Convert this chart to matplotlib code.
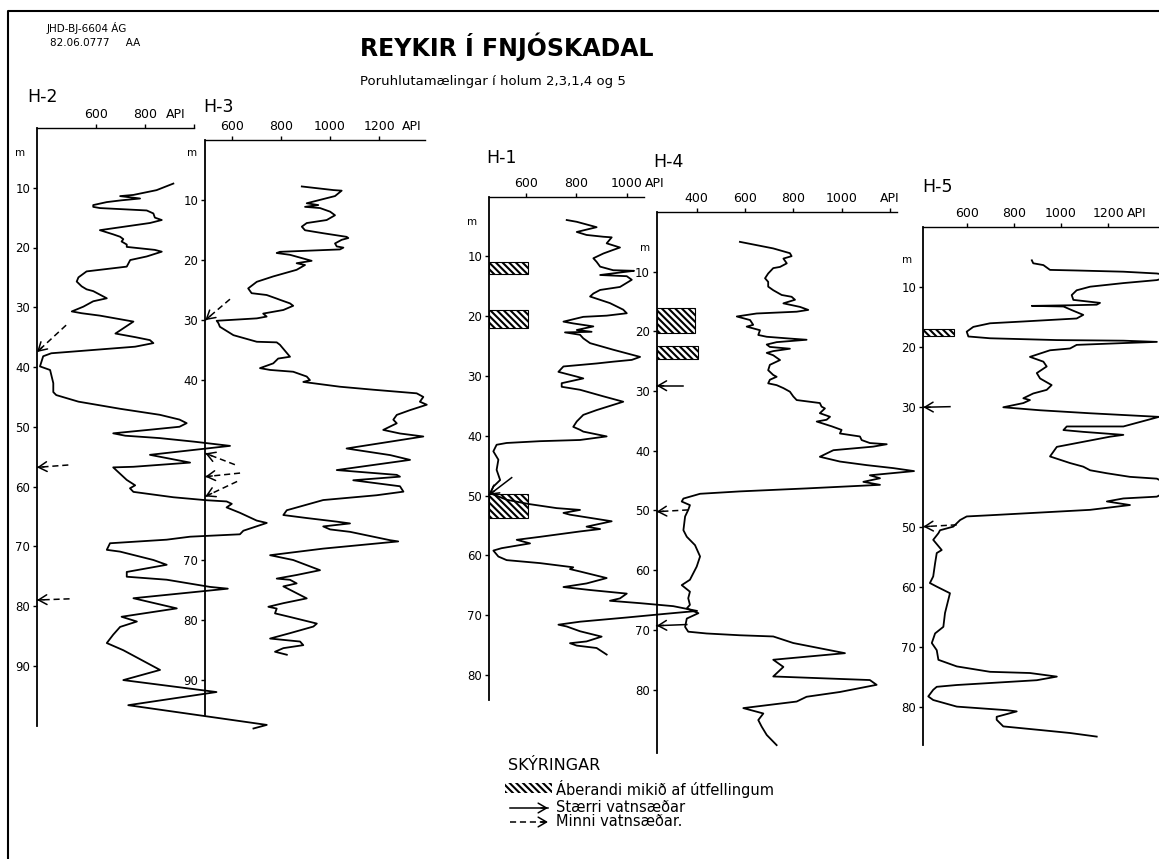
# Reykir i Fnjoskadal - porosity logs (API) in wells H-2, H-3, H-1, H-4, H-5
import numpy as np
import matplotlib
matplotlib.use('Agg')
import matplotlib.pyplot as plt
from matplotlib.patches import Rectangle

W, H = 1159, 859

# logs as (depth m, API)
h2_log = [(9.3, 915), (10.4, 847), (11.2, 753), (11.4, 699), (11.8, 780), (12.1, 705), (12.4, 645),
          (12.9, 590), (13.2, 590), (13.4, 617), (13.8, 807), (14.3, 834), (15.0, 840), (15.4, 868),
          (15.9, 820), (17.1, 617), (17.8, 671), (18.2, 699), (18.6, 712), (19.0, 705), (19.5, 726),
          (19.9, 726), (20.4, 840), (20.7, 868), (21.5, 807), (22.1, 740), (23.2, 726), (24.0, 563),
          (25.0, 530), (25.7, 523), (26.5, 543), (27.0, 563), (27.3, 590), (28.5, 645), (29.0, 590),
          (29.9, 550), (30.7, 503), (31.0, 543), (31.4, 617), (32.4, 753), (34.4, 680), (35.0, 760),
          (35.5, 820), (36.0, 834), (36.6, 760), (37.7, 420), (38.2, 387), (39.9, 374), (40.5, 415),
          (42.7, 428), (44.2, 428), (44.7, 440), (45.8, 530), (47.0, 700), (48.0, 860), (48.8, 940),
          (49.4, 969), (50.0, 940), (50.5, 820), (51.1, 671), (51.5, 720), (51.9, 860), (52.5, 1000),
          (53.2, 1145), (54.7, 820), (56.0, 983), (56.7, 753), (56.8, 671), (58.9, 726), (59.8, 760),
          (60.3, 739), (60.9, 753), (61.8, 915), (62.3, 1050), (62.5, 1131), (62.9, 1152), (63.5, 1131),
          (64.4, 1185), (65.7, 1253), (66.1, 1294), (67.4, 1199), (68.0, 1185), (68.4, 983), (68.9, 888),
          (69.5, 658), (70.6, 645), (70.9, 699), (72.3, 834), (73.1, 888), (74.3, 726), (75.1, 726),
          (75.6, 888), (76.8, 1063), (77.1, 1136), (78.7, 753), (80.4, 929), (81.8, 705), (82.6, 767),
          (83.5, 699), (84.8, 671), (86.2, 645), (87.4, 712), (90.7, 861), (92.4, 712), (94.4, 1090),
          (96.6, 732), (99.9, 1294), (100.5, 1240)]

h3_log = [(7.7, 885), (8.3, 1013), (8.4, 1047), (9.3, 1020), (10.5, 905), (10.8, 952), (11.1, 898),
          (11.3, 959), (11.9, 1000), (12.5, 1020), (13.3, 986), (13.8, 905), (14.4, 885), (15.0, 898),
          (15.5, 972), (16.1, 1067), (16.3, 1074), (16.6, 1047), (17.2, 1020), (17.7, 1027), (17.9, 1054),
          (18.2, 1040), (18.6, 796), (18.8, 783), (19.1, 837), (20.1, 925), (20.5, 864), (20.8, 898),
          (21.6, 864), (22.7, 769), (23.6, 702), (24.7, 667), (25.5, 681), (25.8, 742), (26.4, 783),
          (26.6, 796), (27.2, 837), (27.6, 850), (28.3, 810), (28.9, 728), (29.4, 742), (29.7, 702),
          (30.1, 539), (30.5, 546), (31.1, 552), (32.5, 607), (33.6, 702), (33.7, 783), (34.1, 796),
          (36.1, 837), (36.4, 789), (37.2, 769), (38.0, 715), (38.3, 756), (38.6, 850), (39.4, 905),
          (40.0, 918), (40.3, 891), (41.1, 1040), (41.6, 1176), (42.2, 1352), (42.8, 1379), (43.6, 1365),
          (44.1, 1393), (45.0, 1325), (45.8, 1271), (46.6, 1257), (47.2, 1271), (48.3, 1216), (48.9, 1284),
          (49.4, 1379), (51.4, 1067), (52.5, 1244), (53.3, 1325), (55.0, 1027), (55.8, 1271), (56.1, 1284),
          (56.7, 1094), (57.7, 1284), (58.6, 1298), (59.2, 1189), (60.0, 972), (61.7, 824), (62.5, 810),
          (63.0, 905), (63.6, 1027), (63.9, 1081), (64.4, 972), (64.9, 1000), (65.3, 1081), (66.7, 1244),
          (66.9, 1277), (68.1, 972), (69.2, 756), (70.0, 850), (71.7, 959), (72.5, 864), (73.1, 783),
          (73.3, 837), (73.9, 864), (74.4, 810), (76.4, 905), (77.2, 810), (77.8, 749), (78.1, 783),
          (78.9, 776), (79.5, 837), (80.6, 946), (81.1, 932), (82.2, 837), (83.1, 756), (83.6, 878),
          (84.2, 891), (84.7, 810), (85.3, 776), (85.8, 824)]

h1_log = [(3.9, 762), (4.2, 802), (5.1, 881), (5.9, 802), (6.4, 841), (6.7, 908), (6.8, 941),
          (7.8, 921), (8.5, 974), (8.9, 947), (9.5, 908), (10.3, 868), (10.9, 881), (11.7, 895),
          (12.3, 947), (12.4, 1030), (12.6, 990), (13.1, 895), (13.3, 1001), (13.9, 1021), (15.1, 974),
          (15.6, 895), (16.2, 868), (16.7, 855), (17.8, 934), (18.9, 987), (19.5, 1001), (19.9, 921),
          (20.1, 828), (20.9, 749), (21.2, 788), (21.7, 868), (22.3, 802), (22.6, 861), (22.7, 755),
          (23.1, 815), (23.7, 828), (24.5, 855), (25.6, 947), (26.8, 1054), (27.3, 1021), (27.6, 947),
          (27.9, 881), (28.4, 749), (29.3, 729), (30.1, 802), (30.4, 828), (31.2, 742), (31.8, 742),
          (32.3, 815), (33.4, 908), (34.3, 987), (35.7, 881), (36.5, 828), (37.6, 802), (38.5, 788),
          (39.0, 815), (39.3, 828), (40.1, 921), (40.7, 815), (40.9, 656), (41.2, 523), (41.5, 483),
          (42.6, 470), (44.0, 490), (45.7, 483), (47.4, 497), (48.5, 470), (49.6, 457), (50.7, 523),
          (51.4, 609), (52.1, 722), (52.4, 815), (52.9, 749), (53.2, 775), (54.3, 941), (55.2, 841),
          (55.6, 895), (56.0, 815), (56.9, 656), (57.4, 563), (58.0, 616), (58.8, 503), (59.2, 470),
          (60.2, 490), (60.8, 523), (61.3, 656), (62.0, 788), (62.3, 775), (62.7, 815), (63.8, 921),
          (64.7, 841), (65.3, 749), (65.8, 855), (66.4, 1001), (67.2, 974), (67.6, 934), (68.0, 1054),
          (68.5, 1186), (69.3, 1281), (69.8, 1150), (70.4, 1000), (71.1, 815), (71.6, 729), (71.9, 762),
          (72.7, 815), (73.6, 901), (74.4, 841), (74.7, 775), (75.1, 802), (75.5, 881), (76.6, 921)]

h4_log = [(5.0, 579), (6.1, 717), (6.9, 786), (7.4, 793), (7.8, 759), (8.6, 773), (9.2, 745),
          (9.4, 717), (10.3, 696), (11.1, 683), (11.7, 696), (12.5, 696), (13.1, 717), (13.9, 752),
          (14.2, 793), (14.7, 807), (15.3, 759), (15.9, 828), (16.4, 862), (16.7, 814), (17.0, 648),
          (17.5, 566), (18.1, 621), (18.9, 634), (19.2, 607), (19.8, 662), (20.6, 655), (20.9, 690),
          (21.2, 786), (21.4, 855), (21.8, 731), (22.2, 690), (22.6, 703), (22.9, 786), (23.3, 717),
          (23.6, 690), (24.0, 717), (24.8, 745), (25.6, 703), (26.5, 696), (27.3, 717), (27.6, 731),
          (28.1, 703), (28.7, 696), (29.0, 731), (29.5, 759), (30.1, 786), (30.9, 800), (31.5, 814),
          (32.0, 910), (32.6, 917), (32.9, 931), (33.7, 910), (34.3, 952), (34.8, 938), (35.1, 897),
          (35.9, 959), (36.5, 1000), (37.1, 993), (37.6, 1076), (38.2, 1083), (38.7, 1117), (38.9, 1187),
          (39.3, 1131), (39.9, 966), (41.0, 910), (41.8, 993), (42.4, 1104), (42.9, 1214), (43.4, 1300),
          (44.1, 1117), (44.6, 1159), (45.2, 1090), (45.7, 1159), (46.3, 855), (46.8, 579), (47.2, 414),
          (48.0, 345), (48.5, 338), (49.1, 372), (49.9, 365), (51.0, 352), (53.3, 345), (54.4, 359),
          (55.8, 393), (57.7, 414), (59.4, 400), (60.5, 386), (61.6, 372), (62.5, 338), (63.6, 372),
          (64.7, 365), (65.8, 372), (66.4, 359), (67.2, 407), (68.1, 359), (69.5, 352), (70.3, 365),
          (70.6, 441), (70.9, 579), (71.1, 717), (72.2, 800), (73.9, 1014), (75.0, 717), (76.2, 759),
          (77.8, 717), (78.4, 1117), (79.2, 1145), (80.4, 993), (81.2, 855), (82.0, 814), (83.1, 593),
          (84.0, 676), (85.1, 655), (86.2, 669), (87.6, 690), (89.3, 731)]

h5_log = [(5.6, 876), (6.1, 882), (6.4, 925), (7.2, 953), (7.3, 1066), (7.5, 1264), (7.8, 1406),
          (8.2, 1470), (8.9, 1406), (9.4, 1264), (10.0, 1123), (10.6, 1066), (11.4, 1045), (12.2, 1052),
          (12.7, 1165), (13.0, 1151), (13.1, 1038), (13.2, 876), (13.3, 1010), (13.9, 1045), (14.7, 1094),
          (15.3, 1066), (15.8, 840), (16.1, 699), (16.7, 628), (17.5, 600), (18.3, 607), (18.6, 699),
          (18.9, 982), (19.0, 1264), (19.2, 1406), (19.4, 1264), (19.7, 1066), (20.3, 1038), (20.6, 953),
          (21.7, 868), (22.5, 925), (23.3, 939), (24.4, 897), (25.3, 911), (26.4, 960), (27.2, 939),
          (27.8, 882), (28.6, 840), (28.9, 868), (29.4, 840), (30.1, 755), (30.6, 911), (31.1, 1123),
          (31.7, 1415), (33.3, 1264), (33.3, 1024), (33.9, 1010), (34.2, 1094), (34.7, 1264), (35.0, 1208),
          (36.7, 982), (38.3, 953), (39.4, 1038), (40.0, 1094), (40.6, 1123), (41.1, 1194), (41.7, 1292),
          (42.0, 1406), (43.5, 1480), (45.0, 1406), (45.3, 1264), (45.8, 1194), (46.4, 1292), (47.2, 1123),
          (47.5, 982), (48.1, 699), (48.3, 600), (48.9, 572), (50.0, 543), (50.6, 487), (51.1, 480),
          (52.2, 458), (53.9, 494), (54.4, 473), (56.1, 466), (58.3, 458), (59.4, 444), (60.0, 473),
          (61.1, 529), (62.2, 522), (64.4, 508), (66.7, 501), (67.8, 466), (69.4, 452), (70.6, 473),
          (72.2, 480), (73.3, 558), (74.2, 699), (74.4, 868), (75.0, 982), (75.6, 897), (76.4, 558),
          (76.7, 473), (77.2, 458), (78.3, 437), (78.9, 458), (80.0, 558), (80.6, 770), (80.8, 812),
          (81.7, 727), (82.2, 727), (83.3, 755), (83.9, 911), (84.4, 1038), (85.0, 1151)]

# depth labels on each well
h2_depths = [10, 20, 30, 40, 50, 60, 70, 80, 90]
h3_depths = [10, 20, 30, 40, 70, 80, 90]
h1_depths = [10, 20, 30, 40, 50, 60, 70, 80]
h4_depths = [10, 20, 30, 40, 50, 60, 70, 80]
h5_depths = [10, 20, 30, 50, 60, 70, 80]

# API scale on top of each well
h2_api_ticks, h2_api_labels = [600, 800, 1000], ['600', '800', '']
h3_api_ticks, h3_api_labels = [600, 800, 1000, 1200], ['600', '800', '1000', '1200']
h1_api_ticks, h1_api_labels = [600, 800, 1000], ['600', '800', '1000']
h4_api_ticks, h4_api_labels = [400, 600, 800, 1000, 1200], ['400', '600', '800', '1000', 'API']
h5_api_ticks, h5_api_labels = [600, 800, 1000, 1200], ['600', '800', '1000', '1200']

# hatched intervals with much deposition: (top m, bottom m, API reach)
h1_deposits = [(11.0, 12.9, 608), (19.0, 22.0, 606), (49.8, 53.7, 606)]
h4_deposits = [(16.1, 20.2, 393), (22.4, 24.6, 407)]
h5_deposits = [(17.05, 18.2, 546)]

# aquifers: (tail API, tail depth, tip depth, major?)
h2_feeds = [(480, 33.0, 37.5, False), (489, 56.4, 56.8, False), (494, 78.8, 79.0, False)]
h3_feeds = [(593, 26.5, 30.0, False), (613, 54.1, 52.2, False), (634, 55.5, 56.1, False),
            (622, 56.9, 59.4, False)]
h1_feeds = [(543, 47.0, 49.9, True)]
h4_feeds = [(345, 29.1, 29.1, True), (365, 49.9, 50.2, False), (359, 69.1, 69.3, True)]
h5_feeds = [(529, 30.0, 30.1, True), (558, 49.7, 50.0, False)]

HATCH = '\\' * 5
plt.rcParams['hatch.linewidth'] = 1.5

fig = plt.figure(figsize=(W / 100, H / 100), dpi=100)
fig.patch.set_facecolor('white')

# full-size canvas in pixel units for frame, headings and legend
canvas = fig.add_axes([0, 0, 1, 1])
canvas.set_xlim(0, W)
canvas.set_ylim(H, 0)
canvas.axis('off')


def feed_arrow(ax, tail, tip, major):
    ax.plot([tail[0], tip[0]], [tail[1], tip[1]], color='black', lw=1.1,
            ls='-' if major else (0, (4, 2.5)), clip_on=False)
    p0 = ax.transData.transform(tail)
    p1 = ax.transData.transform(tip)
    u = (p1 - p0) / np.hypot(*(p1 - p0))
    ax.annotate('', xy=tip, xycoords='data', xytext=(-7 * u[0], -7 * u[1]),
                textcoords='offset pixels', annotation_clip=False,
                arrowprops=dict(arrowstyle='->,head_length=0.6,head_width=0.35',
                                lw=1.1, color='black', shrinkA=0, shrinkB=0,
                                mutation_scale=10))


def add_well(box, xlim, dmax):
    x0, x1, y0, y1 = box
    ax = fig.add_axes([x0 / W, 1 - y1 / H, (x1 - x0) / W, (y1 - y0) / H])
    ax.set_xlim(*xlim)
    ax.set_ylim(dmax, 0)
    ax.patch.set_visible(False)
    ax.spines['right'].set_visible(False)
    ax.spines['bottom'].set_visible(False)
    ax.spines['left'].set_linewidth(1.3)
    ax.spines['top'].set_linewidth(1.0)
    ax.xaxis.tick_top()
    ax.tick_params(axis='x', direction='out', length=3, pad=2, labelsize=9, width=1)
    ax.tick_params(axis='y', direction='out', length=3, pad=2, labelsize=8.5, width=1)
    return ax


wells = [
    # name, log, depths, ticks, labels, deposits, feeds, box px, API range, bottom depth, API word, title px, m px
    ('H-2', h2_log, h2_depths, h2_api_ticks, h2_api_labels, [], h2_feeds,
     (37, 194.3, 128, 725.5), (361.9, 1000), 100.0, 926, (27, 97), (20, 153)),
    ('H-3', h3_log, h3_depths, h3_api_ticks, h3_api_labels, [], h3_feeds,
     (205.3, 425.3, 140.3, 715), (492.7, 1387), 95.85, 1332, (203, 107), (192, 153)),
    ('H-1', h1_log, h1_depths, h1_api_ticks, h1_api_labels, h1_deposits, h1_feeds,
     (489, 644, 196.7, 700), (452.7, 1069.6), 84.2, 1113, (486, 158), (472, 222)),
    ('H-4', h4_log, h4_depths, h4_api_ticks, h4_api_labels, h4_deposits, h4_feeds,
     (656.7, 896.9, 212, 752.7), (234.4, 1229), 90.57, None, (653, 162), (645, 248)),
    ('H-5', h5_log, h5_depths, h5_api_ticks, h5_api_labels, h5_deposits, h5_feeds,
     (923.3, 1159, 226.7, 745), (416, 1415), 86.4, 1322, (922, 187), (907, 260)),
]

for name, log, depths, ticks, labels, deposits, feeds, box, xlim, dmax, api_x, title_xy, m_xy in wells:
    ax = add_well(box, xlim, dmax)
    ax.set_xticks(ticks)
    ax.set_xticklabels(labels)
    ax.set_yticks(depths)
    ax.set_yticklabels([str(d) for d in depths])
    if api_x is not None:
        ax.annotate('API', xy=(api_x, 1), xycoords=('data', 'axes fraction'),
                    xytext=(0, 5), textcoords='offset points', ha='center', va='bottom', fontsize=9)

    for top, bottom, reach in deposits:
        ax.add_patch(Rectangle((xlim[0], top), reach - xlim[0], bottom - top, facecolor='white',
                               edgecolor='black', lw=0.8, hatch=HATCH, zorder=3))

    depth = [p[0] for p in log]
    api = [p[1] for p in log]
    ax.plot(api, depth, color='black', lw=1.3, clip_on=False, solid_joinstyle='round', zorder=4)

    for tail_api, tail_d, tip_d, major in feeds:
        feed_arrow(ax, (tail_api, tail_d), (xlim[0], tip_d), major)

    canvas.text(title_xy[0], title_xy[1], name, fontsize=12.5, ha='left', va='center')
    canvas.text(m_xy[0], m_xy[1], 'm', fontsize=7.5, ha='center', va='center')

# frame
canvas.plot([8, 8, W], [H, 11, 11], color='black', lw=1.5)

# headings
canvas.text(47, 28, 'JHD-BJ-6604 ÁG', fontsize=7.5, ha='left', va='center')
canvas.text(50, 43, '82.06.0777     AA', fontsize=7.5, ha='left', va='center')
canvas.text(507, 47, 'REYKIR Í FNJÓSKADAL', fontsize=17, fontweight='bold', ha='center', va='center')
canvas.text(360, 82, 'Poruhlutamælingar í holum 2,3,1,4 og 5', fontsize=9.5, ha='left', va='center')

# legend
canvas.text(508, 766, 'SKÝRINGAR', fontsize=11.5, ha='left', va='center')
canvas.add_patch(Rectangle((505, 783), 47, 10, facecolor='white', edgecolor='black', lw=0,
                           hatch=HATCH))
canvas.text(556, 789, 'Áberandi mikið af útfellingum', fontsize=10.5, ha='left', va='center')
feed_arrow(canvas, (510, 808), (548, 808), True)
canvas.text(556, 808, 'Stærri vatnsæðar', fontsize=10.5, ha='left', va='center')
feed_arrow(canvas, (510, 822), (548, 822), False)
canvas.text(556, 822, 'Minni vatnsæðar.', fontsize=10.5, ha='left', va='center')

fig.savefig('out.png', dpi=100)
